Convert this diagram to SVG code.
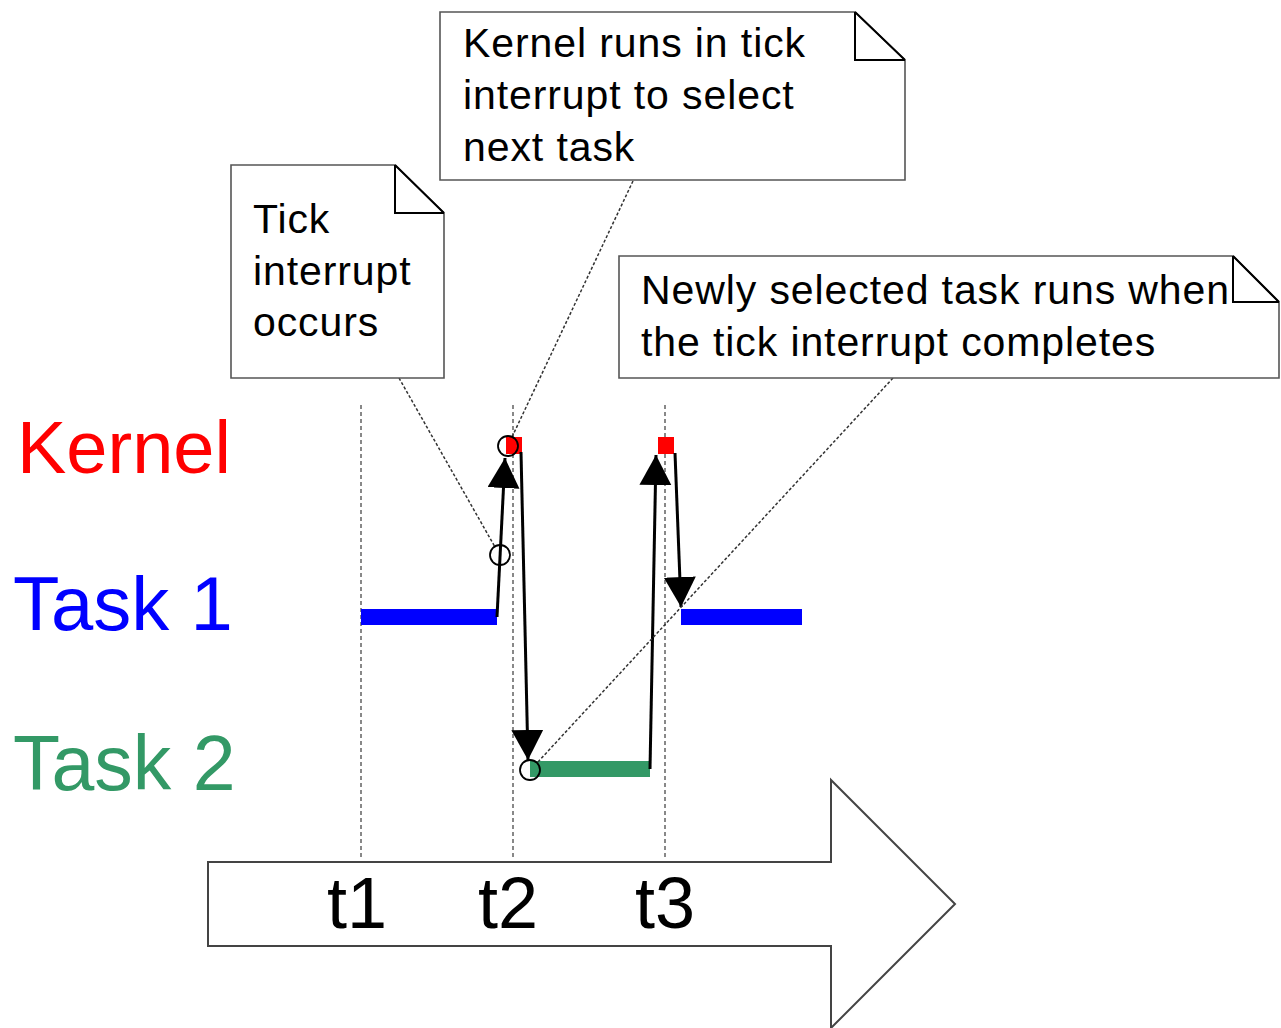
<svg xmlns="http://www.w3.org/2000/svg" width="1281" height="1028" viewBox="0 0 1281 1028">
<style>
.note{fill:#fff;stroke:#555;stroke-width:1.6}
.fold{fill:none;stroke:#000;stroke-width:2}
.nt{font-family:"Liberation Sans",Arial,sans-serif;font-size:41px;fill:#000;letter-spacing:0.9px}
.big{font-family:"Liberation Sans",Arial,sans-serif;font-size:74px}
.tl{font-family:"Liberation Sans",Arial,sans-serif;font-size:72px;fill:#000}
.grid{stroke:#888;stroke-width:2;stroke-dasharray:4 3}
.dot{stroke:#333;stroke-width:1.5;stroke-dasharray:3 2;fill:none}
.arr{stroke:#000;stroke-width:3;fill:none}
.circ{fill:none;stroke:#000;stroke-width:1.8}
</style>
<defs>
<marker id="ah" markerUnits="userSpaceOnUse" markerWidth="34" markerHeight="34" refX="30" refY="16" orient="auto">
<path d="M0,0 L30,16 L0,32 Z" fill="#000"/>
</marker>
</defs>
<rect width="1281" height="1028" fill="#fff"/>
<g id="timeline">
<polygon points="208,862 831,862 831,780 955,904 831,1028 831,946 208,946" fill="#fff" stroke="#444" stroke-width="2"/>
<text class="tl" x="327" y="928">t1</text>
<text class="tl" x="478" y="928">t2</text>
<text class="tl" x="635" y="928">t3</text>
</g>
<g id="gridlines">
<line class="grid" x1="361" y1="405" x2="361" y2="860"/>
<line class="grid" x1="513" y1="405" x2="513" y2="860"/>
<line class="grid" x1="665" y1="405" x2="665" y2="860"/>
</g>
<g id="labels">
<text class="big" x="17" y="473" fill="#ff0000">Kernel</text>
<text class="big" x="13" y="630" fill="#0000ff" style="font-size:76px">Task 1</text>
<text class="big" x="13" y="790" fill="#339966" style="font-size:77px">Task 2</text>
</g>
<g id="bars">
<rect x="361" y="609" width="136" height="16" fill="#0000ff"/>
<rect x="681" y="609" width="121" height="16" fill="#0000ff"/>
<rect x="530" y="761" width="120" height="16" fill="#339966"/>
<rect x="506" y="437" width="16" height="17" fill="#ff0000"/>
<rect x="658" y="437" width="16" height="17" fill="#ff0000"/>
</g>
<g id="connectors">
<line class="arr" x1="497" y1="617" x2="505" y2="458" marker-end="url(#ah)"/>
<line class="arr" x1="521" y1="452" x2="528" y2="760" marker-end="url(#ah)"/>
<line class="arr" x1="650" y1="769" x2="656" y2="455" marker-end="url(#ah)"/>
<line class="arr" x1="675" y1="453" x2="681" y2="607" marker-end="url(#ah)"/>
<line class="dot" x1="633" y1="181" x2="512" y2="437"/>
<line class="dot" x1="399" y1="378" x2="495" y2="547"/>
<line class="dot" x1="893" y1="378" x2="537" y2="763"/>
</g>
<g id="markers">
<circle class="circ" cx="500" cy="555" r="10"/>
<circle class="circ" cx="508" cy="446" r="10"/>
<circle class="circ" cx="530" cy="770" r="10"/>
</g>
<g id="note-kernel">
<path class="note" d="M440,12 L855,12 L905,60 L905,180 L440,180 Z"/>
<path class="fold" d="M855,12 L855,60 L905,60 M855,12 L905,60"/>
<text class="nt" x="463" y="57">Kernel runs in tick</text>
<text class="nt" x="463" y="109">interrupt to select</text>
<text class="nt" x="463" y="161">next task</text>
</g>
<g id="note-tick">
<path class="note" d="M231,165 L395,165 L444,213 L444,378 L231,378 Z"/>
<path class="fold" d="M395,165 L395,213 L444,213 M395,165 L444,213"/>
<text class="nt" x="253" y="233">Tick</text>
<text class="nt" x="253" y="285">interrupt</text>
<text class="nt" x="253" y="336">occurs</text>
</g>
<g id="note-newly">
<path class="note" d="M619,256 L1233,256 L1279,302 L1279,378 L619,378 Z"/>
<path class="fold" d="M1233,256 L1233,302 L1279,302 M1233,256 L1279,302"/>
<text class="nt" x="641" y="304">Newly selected task runs when</text>
<text class="nt" x="641" y="356">the tick interrupt completes</text>
</g>
</svg>
